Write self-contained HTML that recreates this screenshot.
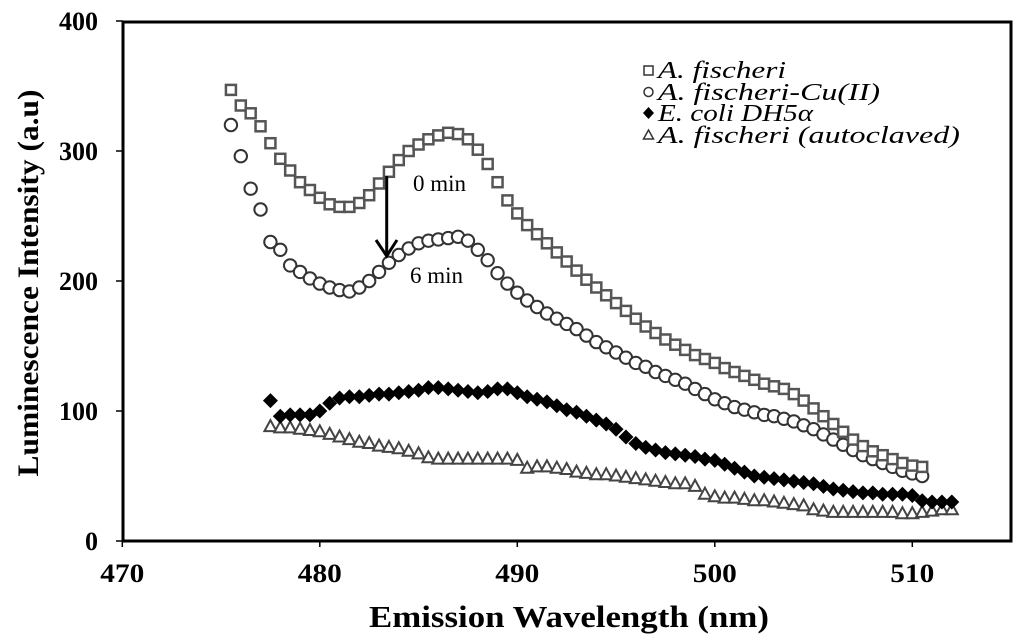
<!DOCTYPE html>
<html><head><meta charset="utf-8"><style>
html,body{margin:0;padding:0;background:#fff;}
svg{display:block;}
</style></head><body>
<svg id="chart" width="1024" height="643" viewBox="0 0 1024 643" xmlns="http://www.w3.org/2000/svg" font-family="'Liberation Serif', serif">
<rect x="0" y="0" width="1024" height="643" fill="#fff"/>
<g id="marks"></g>
<rect x="123" y="22" width="888" height="519" fill="none" stroke="#000" stroke-width="3"/>
<g id="axes"></g>
<text x="569" y="627" text-anchor="middle" font-size="31" font-weight="bold" textLength="400" lengthAdjust="spacingAndGlyphs">Emission Wavelength (nm)</text>
<text transform="translate(38,283) rotate(-90)" text-anchor="middle" font-size="30" font-weight="bold" textLength="387" lengthAdjust="spacingAndGlyphs">Luminescence Intensity (a.u)</text>
<text x="413" y="191" font-size="23">0 min</text>
<text x="410" y="283" font-size="23">6 min</text>
<g>
<line x1="386.7" y1="176" x2="386.7" y2="254" stroke="#000" stroke-width="3"/>
<polyline points="376,240 386.7,256 397,240" fill="none" stroke="#000" stroke-width="3"/>
</g>
<g id="legend" font-size="24" font-style="italic">
<rect x="644" y="66" width="9" height="9" fill="none" stroke="#333" stroke-width="1.5"/>
<text x="658" y="78" textLength="128" lengthAdjust="spacingAndGlyphs">A. fischeri</text>
<circle cx="648.5" cy="92" r="4.5" fill="none" stroke="#333" stroke-width="1.5"/>
<text x="658" y="100" textLength="222" lengthAdjust="spacingAndGlyphs">A. fischeri-Cu(II)</text>
<path d="M648.5,107 L654,113 L648.5,119 L643,113 Z" fill="#000"/>
<text x="658" y="121" textLength="155" lengthAdjust="spacingAndGlyphs">E. coli DH5α</text>
<path d="M648.5,130 L653.5,139 L643.5,139 Z" fill="none" stroke="#333" stroke-width="1.5"/>
<text x="658" y="143" textLength="302" lengthAdjust="spacingAndGlyphs">A. fischeri (autoclaved)</text>
</g>
</svg>
<script>
const xTicks = [470, 480, 490, 500, 510];
const yTicks = [0, 100, 200, 300, 400];
const sqStart = 475.5;
const sqValues = [347,335,329,319,306,294,285,276,270,264,259,257,257,260,266,275,284,293,300,305,309,312,314,313,309,301,290,276,262,252,243,236,229,222,215,208,201,195,189,183,177,171,165,160,155,151,147,143,140,137,133,130,127,124,121,119,117,113,108,102,96,90,84,78,73,69,66,63,60,58,57];
const ciStart = 475.5;
const ciValues = [320,296,271,255,230,224,212,207,202,198,195,193,192,195,200,207,214,220,225,229,231,232,233,234,231,224,216,206,198,191,185,180,175,171,167,163,158,153,149,145,141,137,134,130,127,124,121,117,113,109,106,103,101,99,97,96,94,92,89,86,82,78,74,70,66,63,60,57,54,52,50];
const ecStart = 477.5;
const ecValues = [108,96,97,97,97,100,106,110,111,111,112,113,113,114,115,116,118,118,117,116,115,114,115,117,117,114,111,109,107,104,101,99,96,93,90,86,80,75,72,70,68,67,66,65,63,62,59,56,53,50,49,48,47,46,45,44,42,40,39,38,37,37,36,36,36,35,31,30,30,30];
const trStart = 477.5;
const trValues = [88,87,87,86,85,84,82,80,78,76,75,73,72,71,69,67,64,63,63,63,63,63,63,63,63,62,56,57,57,56,55,53,52,51,51,50,49,48,47,46,45,44,44,42,36,34,33,33,32,31,31,30,29,28,27,24,23,22,22,22,22,22,22,22,21,21,22,23,24,24];
const step = 0.5;

const NS = 'http://www.w3.org/2000/svg';
function xs(v){ return 122.3 + (v - 470) * 19.75; }
function ys(v){ return 541 - v * 1.3; }
function mk(tag, attrs, parent){ const e = document.createElementNS(NS, tag); for (const k in attrs) e.setAttribute(k, attrs[k]); parent.appendChild(e); return e; }

const axes = document.getElementById('axes');
xTicks.forEach(t => {
  const l = mk('line', {x1: xs(t), x2: xs(t), y1: 541, y2: 547, stroke: '#000', 'stroke-width': 1.5}, axes);
  
  
  const tx = mk('text', {x: xs(t), y: 582, 'text-anchor': 'middle', 'font-size': 26, 'font-weight': 'bold', textLength: 44, lengthAdjust: 'spacingAndGlyphs'}, axes);
  tx.textContent = t;
  
  
});
yTicks.forEach(t => {
  const l = mk('line', {x1: 116, x2: 123, y1: ys(t), y2: ys(t), stroke: '#000', 'stroke-width': 1.5}, axes);
  
  
  const tx = mk('text', {x: 98, y: ys(t) + 9, 'text-anchor': 'end', 'font-size': 26, 'font-weight': 'bold'}, axes);
  tx.textContent = t;
  
  
});

const marks = document.getElementById('marks');
const gTr = mk('g', {}, marks);


trValues.forEach((v, i) => {
  const x = xs(trStart + i * step), y = ys(v);
  const p = mk('path', {d: `M${x},${y-6.5} L${x+6},${y+4.5} L${x-6},${y+4.5} Z`, fill: '#fff', stroke: '#444', 'stroke-width': 2}, gTr);
  
  
});
const gEc = mk('g', {}, marks);


ecValues.forEach((v, i) => {
  const x = xs(ecStart + i * step), y = ys(v);
  const p = mk('path', {d: `M${x},${y-7.5} L${x+7.5},${y} L${x},${y+7.5} L${x-7.5},${y} Z`, fill: '#000'}, gEc);
  
  
});
const gCi = mk('g', {}, marks);


ciValues.forEach((v, i) => {
  const c = mk('circle', {cx: xs(ciStart + i * step), cy: ys(v), r: 6.2, fill: '#fff', stroke: '#333', 'stroke-width': 2}, gCi);
  
  
});
const gSq = mk('g', {}, marks);


sqValues.forEach((v, i) => {
  const r = mk('rect', {x: xs(sqStart + i * step) - 5, y: ys(v) - 5, width: 10, height: 10, fill: '#fff', stroke: '#555', 'stroke-width': 2.5}, gSq);
  
  
});
</script>
</body></html>
